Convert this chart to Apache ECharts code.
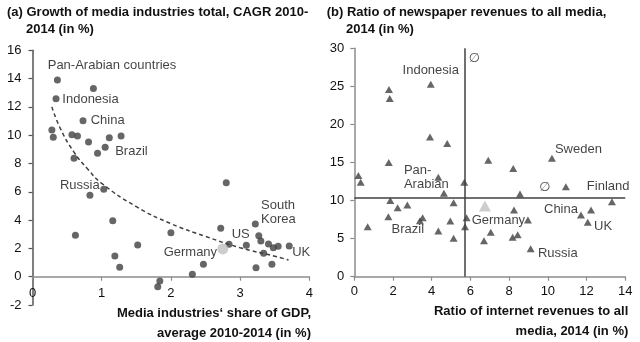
<!DOCTYPE html>
<html><head><meta charset="utf-8">
<script src="https://cdn.jsdelivr.net/npm/echarts@6/dist/echarts.min.js"></script>
<style>html,body{margin:0;padding:0;background:#fff}#c{width:640px;height:342px}</style>
</head><body><div id="c"></div>
<script>
// ---------- Panel (a): media share of GDP vs CAGR ----------
var aPoints = [[0.36,13.9],[0.88,13.3],[0.34,12.58],[0.73,11.03],[0.28,10.37],[0.30,9.85],[0.57,10.04],[0.65,9.94],[0.81,9.52],[0.94,8.72],[1.05,9.15],[1.11,9.82],[1.28,9.94],[0.60,8.37],
  [0.83,5.75],[1.03,6.18],[2.80,6.64],[1.16,3.96],[0.62,2.93],[2.00,3.11],[2.72,3.42],[3.22,3.72],[3.27,2.90],[3.30,2.52],[2.84,2.29],[3.09,2.22],[3.41,2.31],[3.48,2.05],[3.55,2.15],[3.71,2.17],[3.34,1.65],[1.52,2.24],[1.19,1.46],[1.26,0.66],[2.47,0.88],[2.31,0.17],[3.23,0.64],[3.46,0.88],[1.84,-0.30],[1.81,-0.71]];
var aNames = {"0.36,13.9":"Pan-Arabian countries","0.34,12.58":"Indonesia","0.73,11.03":"China","1.05,9.15":"Brazil","0.83,5.75":"Russia","3.22,3.72":"South\nKorea","3.09,2.22":"US","3.71,2.17":"UK"};
var aGermany = [2.75,1.96];
var aTrend = [[0.28,12.0],[0.4,10.5],[0.6,8.8],[0.8,7.6],[1.0,6.6],[1.5,4.95],[2.0,3.75],[2.5,2.85],[3.0,2.05],[3.5,1.45],[3.7,1.18]];
var aXTicks = [0,1,2,3,4];
var aYTicks = [-2,0,2,4,6,8,10,12,14,16];

// ---------- Panel (b): internet ratio vs newspaper ratio ----------
var bPoints = [[1.79,24.6],[1.83,23.4],[3.95,25.27],[3.91,18.35],[4.80,17.5],[1.78,15.0],[6.92,15.3],[8.21,14.2],[10.21,15.55],
  [0.21,13.3],[0.33,12.4],[4.34,13.05],[5.68,12.4],[4.63,10.95],[1.86,10.0],[2.24,9.06],[2.74,9.42],[5.13,9.72],[1.76,7.88],[0.69,6.57],[3.39,7.36],[3.53,7.75],[4.34,6.0],[4.96,7.3],[5.13,5.04],[5.80,7.75],[5.72,6.57],
  [10.93,11.8],[8.56,10.86],[13.31,9.85],[8.25,8.76],[8.97,7.45],[7.05,5.83],[6.70,4.73],[8.18,5.17],[8.44,5.52],[9.11,3.68],[11.71,8.1],[12.23,8.76],[12.06,7.14]];
var bNames = {"3.95,25.27":"Indonesia","10.21,15.55":"Sweden","4.63,10.95":"Pan-\nArabian","10.93,11.8":"Finland","11.71,8.1":"China","12.06,7.14":"UK","9.11,3.68":"Russia","3.39,7.36":"Brazil"};
var bGermany = [6.75,9.28];
var bAvgX = 5.72;
var bAvgY = 10.38;
var bAvgMarks = [[6.2, 28.7], [9.85, 11.7]];
var bXTicks = [0,2,4,6,8,10,12,14];
var bYTicks = [0,5,10,15,20,25,30];

// label placement (styles only)
var aLab = {"Pan-Arabian countries":[-9.7,-15,'left'],"Indonesia":[6.3,0.3,'left'],"China":[7.7,-0.7,'left'],"Brazil":[10,4,'left'],"Russia":[-30,-10,'left'],"South\nKorea":[5.7,-11.3,'left'],"US":[-14.7,-11.3,'left'],"UK":[3,6,'left'],"Germany":[-5.7,3,'right']};
var bLab = {"Indonesia":[0,-14.3,'center'],"Sweden":[3,-9.3,'left'],"Pan-\nArabian":[-40,-16.3,'left'],"Finland":[21,0,'left'],"China":[-3,-5.7,'right'],"UK":[6.3,3.7,'left'],"Russia":[7.3,4.6,'left'],"Brazil":[-28.3,8.6,'left'],"Germany":[-13.3,14,'left']};

var FONT = 'Liberation Sans, Arial, sans-serif';
var DARK = '#404040';
var AXIS = '#8c8c8c';

function item(p, names, labs) {
  var nm = names[p[0] + ',' + p[1]];
  var o = {value: p};
  if (nm) {
    var l = labs[nm];
    o.label = {show: true, formatter: nm, position: 'inside', align: l[2], verticalAlign: 'middle', offset: [l[0], l[1]],
      color: '#111', fontSize: 13, fontFamily: FONT, lineHeight: 14};
  }
  return o;
}
function gItem(p, name, labs) {
  var l = labs[name];
  return {value: p, label: {show: true, formatter: name, position: 'inside', align: l[2], verticalAlign: 'middle', offset: [l[0], l[1]], color: '#111', fontSize: 13, fontFamily: FONT}};
}

function axisCommon(ticks, margin, color) {
  return {
    type: 'value', min: ticks[0], max: ticks[ticks.length - 1], interval: ticks[1] - ticks[0],
    axisLine: {show: true, onZero: false, lineStyle: {color: color, width: 1.5}},
    axisTick: {show: true, length: 4, lineStyle: {color: color, width: 1.2}},
    splitLine: {show: false},
    axisLabel: {color: '#111', fontSize: 13, fontFamily: FONT, margin: margin}
  };
}

var chart = echarts.init(document.getElementById('c'), null, {renderer: 'canvas'});
var option = {
  animation: false,
  backgroundColor: '#fff',
  grid: [
    {left: 32.5, right: 330.7, top: 50.3, bottom: 37},
    {left: 354.3, right: 14.7, top: 48.3, bottom: 65.3}
  ],
  xAxis: [
    Object.assign(axisCommon(aXTicks, 10, AXIS), {gridIndex: 0, offset: -28.3}),
    Object.assign(axisCommon(bXTicks, 8, AXIS), {gridIndex: 1})
  ],
  yAxis: [
    Object.assign(axisCommon(aYTicks, 11, '#555'), {gridIndex: 0}),
    Object.assign(axisCommon(bYTicks, 10, AXIS), {gridIndex: 1})
  ],
  graphic: [
    {type: 'text', x: 7, y: 12.3, style: {text: '(a) Growth of media industries total, CAGR 2010-', font: 'bold 13px ' + FONT, fill: '#111', verticalAlign: 'middle'}},
    {type: 'text', x: 26, y: 29, style: {text: '2014 (in %)', font: 'bold 13px ' + FONT, fill: '#111', verticalAlign: 'middle'}},
    {type: 'text', x: 326.7, y: 12.3, style: {text: '(b) Ratio of newspaper revenues to all media,', font: 'bold 13px ' + FONT, fill: '#111', verticalAlign: 'middle'}},
    {type: 'text', x: 346, y: 29, style: {text: '2014 (in %)', font: 'bold 13px ' + FONT, fill: '#111', verticalAlign: 'middle'}},
    {type: 'text', x: 311, y: 313, style: {text: 'Media industries\u2018 share of GDP,', font: 'bold 13px ' + FONT, fill: '#111', align: 'right', verticalAlign: 'middle'}},
    {type: 'text', x: 311, y: 333, style: {text: 'average 2010-2014 (in %)', font: 'bold 13px ' + FONT, fill: '#111', align: 'right', verticalAlign: 'middle'}},
    {type: 'text', x: 628.3, y: 311.7, style: {text: 'Ratio of internet revenues to all', font: 'bold 13px ' + FONT, fill: '#111', align: 'right', verticalAlign: 'middle'}},
    {type: 'text', x: 628.3, y: 331.7, style: {text: 'media, 2014 (in %)', font: 'bold 13px ' + FONT, fill: '#111', align: 'right', verticalAlign: 'middle'}}
  ],
  series: [
    {type: 'line', xAxisIndex: 0, yAxisIndex: 0, data: aTrend, smooth: true, symbol: 'none', silent: true,
      lineStyle: {color: DARK, width: 1.5, type: [4, 3]}, z: 1},
    {type: 'scatter', xAxisIndex: 0, yAxisIndex: 0, symbol: 'circle', symbolSize: 7, silent: true,
      itemStyle: {color: DARK}, data: aPoints.map(function (p) { return item(p, aNames, aLab); }), z: 3},
    {type: 'scatter', xAxisIndex: 0, yAxisIndex: 0, symbol: 'circle', symbolSize: 11, silent: true,
      itemStyle: {color: '#c0c0c0'}, data: [gItem(aGermany, 'Germany', aLab)], z: 4},
    {type: 'scatter', xAxisIndex: 1, yAxisIndex: 1, symbol: 'triangle', symbolSize: [8, 7], silent: true,
      itemStyle: {color: DARK}, data: bPoints.map(function (p) { return item(p, bNames, bLab); }), z: 3,
      markLine: {silent: true, symbol: 'none', label: {show: false},
        lineStyle: {color: DARK, width: 1.5, type: 'solid'},
        data: [{xAxis: bAvgX}, {yAxis: bAvgY}]}},
    {type: 'scatter', xAxisIndex: 1, yAxisIndex: 1, symbol: 'triangle', symbolSize: [12, 11], silent: true,
      itemStyle: {color: '#c0c0c0'}, data: [gItem(bGermany, 'Germany', bLab)], z: 4},
    {type: 'scatter', xAxisIndex: 1, yAxisIndex: 1, symbol: 'circle', symbolSize: 1, silent: true,
      itemStyle: {color: 'rgba(0,0,0,0)'},
      data: bAvgMarks,
      label: {show: true, formatter: '\u2205', position: 'inside', color: '#222', fontSize: 13, fontFamily: 'DejaVu Sans, sans-serif'}, z: 5}
  ]
};
chart.setOption(option);
</script>
</body></html>
